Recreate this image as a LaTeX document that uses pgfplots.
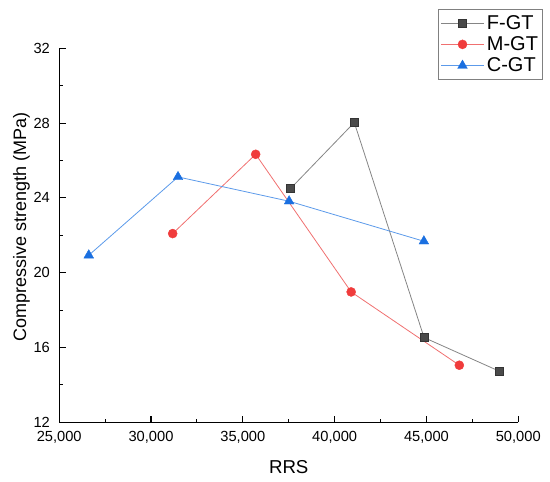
\documentclass[border=0pt]{standalone}
\usepackage{pgfplots}
\pgfplotsset{compat=1.18}
\usepackage{fontspec}
\setmainfont{Liberation Sans}
\definecolor{fmark}{HTML}{4A4A4A}
\definecolor{fline}{HTML}{858585}
\definecolor{mmark}{HTML}{F03C3C}
\definecolor{mline}{HTML}{F07070}
\definecolor{cmark}{HTML}{1A6FE0}
\definecolor{cline}{HTML}{5C9AEA}
\begin{document}
\begin{tikzpicture}
\useasboundingbox (0,0) rectangle (412.5pt,361.5pt);
\begin{axis}[
  at={(44.4pt,44.8pt)}, anchor=south west,
  width=344.3pt, height=280.5pt, scale only axis,
  axis lines=left, axis line style={line width=1pt, -},
  xmin=25000, xmax=50000, ymin=12, ymax=32,
  xtick={25000,30000,...,50000}, ytick={12,16,...,32},
  minor x tick num=1, minor y tick num=1,
  tick align=inside,
  major tick length=5pt, minor tick length=2.5pt,
  tick style={black, line width=0.8pt},
  scaled ticks=false,
  /pgf/number format/1000 sep={,},
  /pgf/number format/assume math mode=true,
  ticklabel style={font=\fontsize{11}{13}\selectfont},
  yticklabel style={xshift=-3.5pt},
  xticklabel style={yshift=-3.2pt},
  xlabel={RRS}, ylabel={Compressive strength (MPa)},
  xlabel style={font=\fontsize{14}{16}\selectfont, at={(axis description cs:0.5,-0.136)}, anchor=base},
  ylabel style={font=\fontsize{13.5}{16}\selectfont, at={(axis description cs:-0.0723,0.521)}, anchor=base, rotate=0},
  legend style={at={(axis description cs:1.054,1.104)}, anchor=north east,
    draw=gray, line width=0.6pt, font=\fontsize{15}{18}\selectfont,
    row sep=0pt, inner xsep=1.5pt, inner ysep=2pt},
  legend cell align=left,
  legend image code/.code={
    \draw[mark repeat=2,mark phase=2] plot coordinates {(0pt,0pt) (16pt,0pt) (32pt,0pt)};
  },
]
\addplot[fline, line width=0.6pt, mark=square*, mark size=3pt,
  mark options={fill=fmark, draw=fmark!70!black, line width=0.4pt}]
  coordinates {(37600,24.5) (41070,28.03) (44870,16.53) (48945,14.74)};
\addlegendentry{F-GT}
\addplot[mline, line width=0.6pt, mark=*, mark size=3.4pt,
  mark options={fill=mmark, draw=mmark, line width=0.3pt}]
  coordinates {(31180,22.09) (35700,26.33) (40900,18.97) (46790,15.05)};
\addlegendentry{M-GT}
\addplot[cline, line width=0.6pt, mark=triangle*, mark size=4.2pt,
  mark options={fill=cmark, draw=cmark, line width=0.3pt}]
  coordinates {(26610,20.93) (31470,25.12) (37520,23.82) (44860,21.68)};
\addlegendentry{C-GT}
\end{axis}
\end{tikzpicture}
\end{document}
